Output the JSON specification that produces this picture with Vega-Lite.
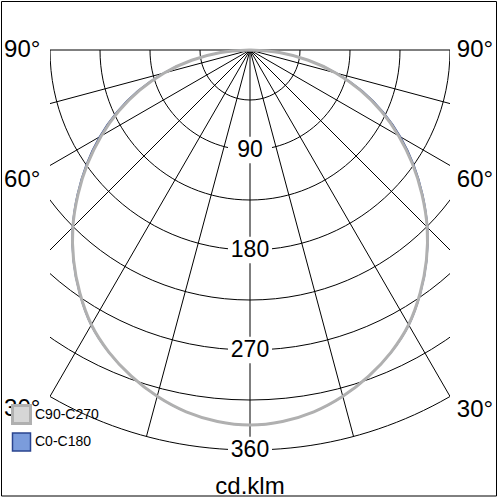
{
  "$schema": "https://vega.github.io/schema/vega-lite/v6.json",
  "autosize": {"type": "none"},
  "width": 400,
  "height": 500,
  "padding": {"left": 50, "right": 50, "top": 0, "bottom": 0},
  "background": "white",
  "config": {"view": {"stroke": null}, "text": {"font": "Liberation Sans"}},
  "datasets": {
    "rings": [{"r": 45}, {"r": 90}, {"r": 135}, {"r": 180}, {"r": 225}, {"r": 270}, {"r": 315}, {"r": 360}],
    "rays": [{"a": -90}, {"a": -75}, {"a": -60}, {"a": -45}, {"a": -30}, {"a": -15}, {"a": 0}, {"a": 15}, {"a": 30}, {"a": 45}, {"a": 60}, {"a": 75}, {"a": 90}],
    "curves": [
      {"plane": "C0-C180", "g": -90, "i": 0}, {"plane": "C0-C180", "g": -85, "i": 26.5}, {"plane": "C0-C180", "g": -80, "i": 53.5}, {"plane": "C0-C180", "g": -75, "i": 81}, {"plane": "C0-C180", "g": -70, "i": 107.5}, {"plane": "C0-C180", "g": -65, "i": 132.5}, {"plane": "C0-C180", "g": -60, "i": 156.5}, {"plane": "C0-C180", "g": -55, "i": 180}, {"plane": "C0-C180", "g": -50, "i": 203}, {"plane": "C0-C180", "g": -45, "i": 226}, {"plane": "C0-C180", "g": -40, "i": 247.5}, {"plane": "C0-C180", "g": -35, "i": 267.5}, {"plane": "C0-C180", "g": -30, "i": 286}, {"plane": "C0-C180", "g": -25, "i": 300.5}, {"plane": "C0-C180", "g": -20, "i": 312.5}, {"plane": "C0-C180", "g": -15, "i": 322.7}, {"plane": "C0-C180", "g": -10, "i": 330.7}, {"plane": "C0-C180", "g": -5, "i": 335.6}, {"plane": "C0-C180", "g": 0, "i": 337.5}, {"plane": "C0-C180", "g": 5, "i": 335.6}, {"plane": "C0-C180", "g": 10, "i": 330.7}, {"plane": "C0-C180", "g": 15, "i": 322.7}, {"plane": "C0-C180", "g": 20, "i": 312.5}, {"plane": "C0-C180", "g": 25, "i": 300.5}, {"plane": "C0-C180", "g": 30, "i": 286}, {"plane": "C0-C180", "g": 35, "i": 267.5}, {"plane": "C0-C180", "g": 40, "i": 247.5}, {"plane": "C0-C180", "g": 45, "i": 226}, {"plane": "C0-C180", "g": 50, "i": 203}, {"plane": "C0-C180", "g": 55, "i": 180}, {"plane": "C0-C180", "g": 60, "i": 156.5}, {"plane": "C0-C180", "g": 65, "i": 132.5}, {"plane": "C0-C180", "g": 70, "i": 107.5}, {"plane": "C0-C180", "g": 75, "i": 81}, {"plane": "C0-C180", "g": 80, "i": 53.5}, {"plane": "C0-C180", "g": 85, "i": 26.5}, {"plane": "C0-C180", "g": 90, "i": 0},
      {"plane": "C90-C270", "g": -90, "i": 0}, {"plane": "C90-C270", "g": -85, "i": 26.5}, {"plane": "C90-C270", "g": -80, "i": 53.3}, {"plane": "C90-C270", "g": -75, "i": 79.9}, {"plane": "C90-C270", "g": -70, "i": 105.6}, {"plane": "C90-C270", "g": -65, "i": 130.5}, {"plane": "C90-C270", "g": -60, "i": 154.6}, {"plane": "C90-C270", "g": -55, "i": 178.5}, {"plane": "C90-C270", "g": -50, "i": 202}, {"plane": "C90-C270", "g": -45, "i": 225.5}, {"plane": "C90-C270", "g": -40, "i": 247}, {"plane": "C90-C270", "g": -35, "i": 267}, {"plane": "C90-C270", "g": -30, "i": 285.5}, {"plane": "C90-C270", "g": -25, "i": 300.2}, {"plane": "C90-C270", "g": -20, "i": 312.4}, {"plane": "C90-C270", "g": -15, "i": 322.7}, {"plane": "C90-C270", "g": -10, "i": 330.7}, {"plane": "C90-C270", "g": -5, "i": 335.6}, {"plane": "C90-C270", "g": 0, "i": 337.5}, {"plane": "C90-C270", "g": 5, "i": 335.6}, {"plane": "C90-C270", "g": 10, "i": 330.7}, {"plane": "C90-C270", "g": 15, "i": 322.7}, {"plane": "C90-C270", "g": 20, "i": 312.4}, {"plane": "C90-C270", "g": 25, "i": 300.2}, {"plane": "C90-C270", "g": 30, "i": 285.5}, {"plane": "C90-C270", "g": 35, "i": 267}, {"plane": "C90-C270", "g": 40, "i": 247}, {"plane": "C90-C270", "g": 45, "i": 225.5}, {"plane": "C90-C270", "g": 50, "i": 202}, {"plane": "C90-C270", "g": 55, "i": 178.5}, {"plane": "C90-C270", "g": 60, "i": 154.6}, {"plane": "C90-C270", "g": 65, "i": 130.5}, {"plane": "C90-C270", "g": 70, "i": 105.6}, {"plane": "C90-C270", "g": 75, "i": 79.9}, {"plane": "C90-C270", "g": 80, "i": 53.3}, {"plane": "C90-C270", "g": 85, "i": 26.5}, {"plane": "C90-C270", "g": 90, "i": 0}
    ],
    "ringlabels": [{"t": "90", "r": 90}, {"t": "180", "r": 180}, {"t": "270", "r": 270}, {"t": "360", "r": 360}],
    "anglelabels": [
      {"t": "90°", "x": -205, "y": 0}, {"t": "60°", "x": -205, "y": 117}, {"t": "30°", "x": -205, "y": 323},
      {"t": "90°", "x": 202.5, "y": 0}, {"t": "60°", "x": 202.5, "y": 117}, {"t": "30°", "x": 202.5, "y": 324}
    ],
    "unit": [{"t": "cd.klm", "x": 0, "y": 399.5}],
    "frame": [{"x1": -223.65, "x2": 221.85, "y1": -43.65, "y2": 401.4}]
  },
  "layer": [
    {
      "data": {"name": "rings"},
      "transform": [{"calculate": "0", "as": "o"}],
      "mark": {"type": "point", "shape": "M-1,0A1,1,0,0,0,1,0", "filled": false, "stroke": "black", "strokeWidth": 1, "opacity": 1, "clip": true},
      "encoding": {
        "x": {"field": "o", "type": "quantitative", "scale": {"domain": [-180, 180], "nice": false, "zero": false}, "axis": null},
        "y": {"field": "o", "type": "quantitative", "scale": {"domain": [-45, 405], "nice": false, "zero": false, "reverse": true}, "axis": null},
        "size": {"field": "r", "type": "quantitative", "scale": {"type": "pow", "exponent": 2, "domain": [0, 360], "range": [0, 640000], "zero": true, "nice": false}, "legend": null}
      }
    },
    {
      "data": {"name": "rays"},
      "transform": [
        {"calculate": "0", "as": "o"},
        {"calculate": "360*sin(datum.a*PI/180)", "as": "xe"},
        {"calculate": "360*cos(datum.a*PI/180)", "as": "ye"}
      ],
      "mark": {"type": "rule", "color": "black", "strokeWidth": 1, "clip": true},
      "encoding": {
        "x": {"field": "o", "type": "quantitative"},
        "y": {"field": "o", "type": "quantitative"},
        "x2": {"field": "xe"},
        "y2": {"field": "ye"}
      }
    },
    {
      "data": {"name": "curves"},
      "transform": [
        {"calculate": "datum.i*sin(datum.g*PI/180)", "as": "x"},
        {"calculate": "datum.i*cos(datum.g*PI/180)", "as": "y"}
      ],
      "mark": {"type": "line", "interpolate": "cardinal"},
      "encoding": {
        "x": {"field": "x", "type": "quantitative"},
        "y": {"field": "y", "type": "quantitative"},
        "order": {"field": "g", "type": "quantitative"},
        "strokeWidth": {"field": "plane", "type": "nominal", "scale": {"domain": ["C90-C270", "C0-C180"], "range": [3, 1.5]}, "legend": null},
        "stroke": {
          "field": "plane", "type": "nominal",
          "scale": {"domain": ["C90-C270", "C0-C180"], "range": ["#b0b0b0", "#2a448f"]},
          "legend": {
            "orient": "none", "legendX": -39, "legendY": 404, "title": null, "padding": 0,
            "symbolType": "square", "symbolSize": 324, "symbolStrokeWidth": 1.5,
            "symbolFillColor": {"expr": "datum.value === 'C0-C180' ? '#7b9cdc' : '#d6d6d6'"},
            "labelFont": "Liberation Sans", "labelFontSize": 14, "labelColor": "black", "labelOffset": 3, "rowPadding": 0
          }
        }
      }
    },
    {
      "data": {"name": "ringlabels"},
      "transform": [{"calculate": "0", "as": "o"}],
      "mark": {"type": "point", "shape": "M-1,-0.6H1V0.6H-1Z", "size": 1936, "filled": true, "fill": "white", "strokeWidth": 0, "opacity": 1},
      "encoding": {
        "x": {"field": "o", "type": "quantitative"},
        "y": {"field": "r", "type": "quantitative"}
      }
    },
    {
      "data": {"name": "ringlabels"},
      "mark": {"type": "text", "fontSize": 23, "align": "center", "baseline": "middle", "color": "black"},
      "encoding": {
        "x": {"datum": 0, "type": "quantitative"},
        "y": {"field": "r", "type": "quantitative"},
        "text": {"field": "t"}
      }
    },
    {
      "data": {"name": "anglelabels"},
      "mark": {"type": "text", "fontSize": 24, "align": "center", "baseline": "middle", "color": "black"},
      "encoding": {
        "x": {"field": "x", "type": "quantitative"},
        "y": {"field": "y", "type": "quantitative"},
        "text": {"field": "t"}
      }
    },
    {
      "data": {"name": "unit"},
      "mark": {"type": "text", "fontSize": 24, "align": "center", "baseline": "alphabetic", "color": "black"},
      "encoding": {
        "x": {"field": "x", "type": "quantitative"},
        "y": {"field": "y", "type": "quantitative"},
        "text": {"field": "t"}
      }
    },
    {
      "data": {"name": "frame"},
      "mark": {"type": "rect", "filled": false, "stroke": "black", "strokeWidth": 1, "clip": false},
      "encoding": {
        "x": {"field": "x1", "type": "quantitative"},
        "x2": {"field": "x2"},
        "y": {"field": "y1", "type": "quantitative"},
        "y2": {"field": "y2"}
      }
    }
  ]
}
